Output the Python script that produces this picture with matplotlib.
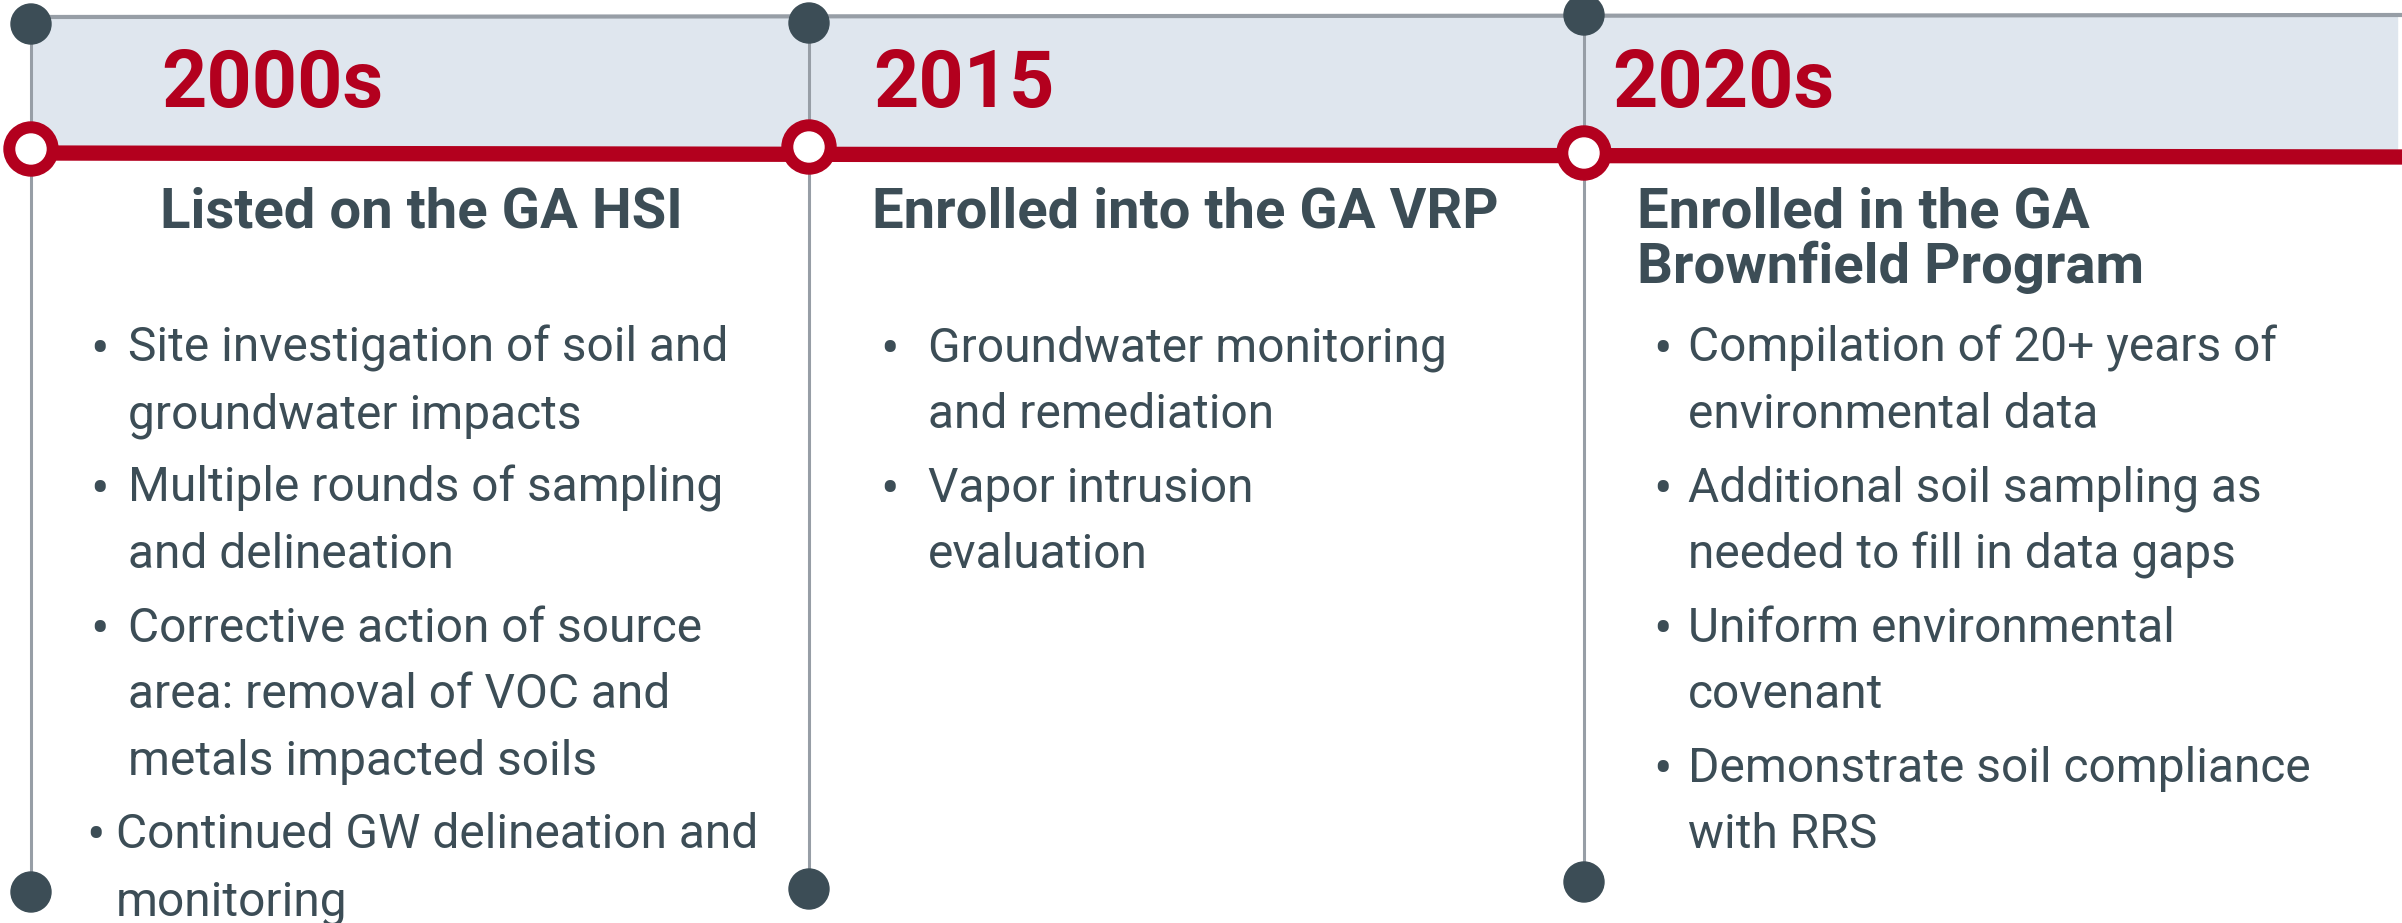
import matplotlib
matplotlib.use("Agg")
import matplotlib.pyplot as plt
from matplotlib.patches import Circle, Rectangle

# timeline content
years = ["2000s", "2015", "2020s"]
headings = [
    ["Listed on the GA HSI"],
    ["Enrolled into the GA VRP"],
    ["Enrolled in the GA", "Brownfield Program"],
]
bullets = [
    [
        ["Site investigation of soil and", "groundwater impacts"],
        ["Multiple rounds of sampling", "and delineation"],
        ["Corrective action of source", "area: removal of VOC and", "metals impacted soils"],
        ["Continued GW delineation and", "monitoring"],
    ],
    [
        ["Groundwater monitoring", "and remediation"],
        ["Vapor intrusion", "evaluation"],
    ],
    [
        ["Compilation of 20+ years of", "environmental data"],
        ["Additional soil sampling as", "needed to fill in data gaps"],
        ["Uniform environmental", "covenant"],
        ["Demonstrate soil compliance", "with RRS"],
    ],
]

RED = "#B3001E"
SLATE = "#3C4D56"
GRAY = "#979EA6"
BAND = "#DFE6EE"

W, H = 2402, 923
line_x = [31, 809, 1584]
top_y = [24, 23, 15]
bot_y = [892, 889, 882]
ring_y = [149, 147, 153]
year_x = [161, 873, 1612]
head_x = [160, 872, 1637]
dot_x = [90, 880, 1653]
text_x = [128, 928, 1688]

plt.rcParams["font.family"] = ["Roboto", "DejaVu Sans"]

fig = plt.figure(figsize=(W / 100, H / 100), dpi=100)
ax = fig.add_axes([0, 0, 1, 1])
ax.set_xlim(0, W)
ax.set_ylim(H, 0)
ax.axis("off")

# light band behind the years
ax.add_patch(Rectangle((line_x[0], 17), 2397 - line_x[0], 136, color=BAND, zorder=1))
ax.plot([line_x[0], W], [17, 15], color=GRAY, lw=3, zorder=2, solid_capstyle="butt")

# red timeline
ax.plot([line_x[0], W], [153, 157], color=RED, lw=11, zorder=3, solid_capstyle="butt")

for i in range(len(years)):
    x = line_x[i]
    ax.plot([x, x], [top_y[i], bot_y[i]], color=GRAY, lw=2.2, zorder=2)
    ax.add_patch(Circle((x, top_y[i]), 20, color=SLATE, zorder=4))
    ax.add_patch(Circle((x, bot_y[i]), 20, color=SLATE, zorder=4))
    ax.add_patch(Circle((x, ring_y[i]), 27, color=RED, zorder=4))
    ax.add_patch(Circle((x, ring_y[i]), 15, color="white", zorder=5))

    ax.text(year_x[i], 107, years[i], color=RED, fontsize=57, fontweight="bold",
            va="baseline", ha="left", zorder=6)

    for j, line in enumerate(headings[i]):
        ax.text(head_x[i], 228 + j * 55, line, color=SLATE, fontsize=40.5,
                fontweight="bold", va="baseline", ha="left", zorder=6)

    y = 362
    for k, item in enumerate(bullets[i]):
        bx, tx = dot_x[i], text_x[i]
        if i == 0 and k == 3:
            bx, tx = 86, 116
        ax.text(bx, y + 5, "\u2022", color=SLATE, fontsize=40, va="baseline", ha="left", zorder=6)
        for line in item:
            ax.text(tx, y, line, color=SLATE, fontsize=34.5, va="baseline", ha="left", zorder=6)
            y += 66.5
        y += 7

fig.savefig("out.png", dpi=100)
